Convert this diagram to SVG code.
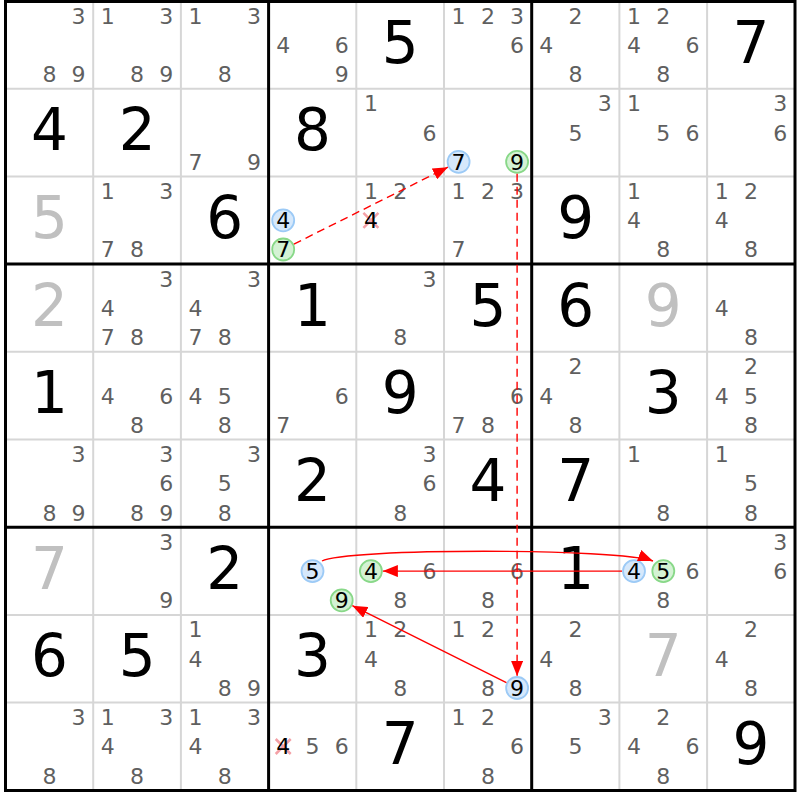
<svg xmlns="http://www.w3.org/2000/svg" width="800" height="800" viewBox="0 0 800 800">
<style>
text{font-family:"DejaVu Sans","Liberation Sans",sans-serif;text-anchor:middle}
.c{font-size:22px;fill:#5f5f5f}
.h{font-size:22px;fill:#000}
.g{font-size:58px;fill:#000}
.s{font-size:58px;fill:#c0c0c0}
.thin{stroke:#d6d6d6;stroke-width:2;fill:none}
.thick{stroke:#000;stroke-width:3;fill:none}
.bl{fill:#d6e8fb;stroke:#9ccaf6;stroke-width:1.8}
.gr{fill:#d4f2d4;stroke:#88d888;stroke-width:1.8}
.x{stroke:#f4a0a6;stroke-width:2.5}
.a{stroke:#ff0000;stroke-width:1.4;fill:none}
.d{stroke-dasharray:8,5}
</style>
<defs>
<marker id="ah" markerUnits="userSpaceOnUse" markerWidth="16" markerHeight="12" refX="15" refY="6" orient="auto">
<path d="M0,0 L15,6 L0,12 z" fill="#ff0000"/>
</marker>
</defs>
<rect width="800" height="800" fill="#fff"/>
<g id="grid">
<path class="thin" d="M93.2,1V790.3M180.9,1V790.3M356.3,1V790.3M444,1V790.3M619.4,1V790.3M707.1,1V790.3M5.5,88.7H795M5.5,176.4H795M5.5,351.8H795M5.5,439.5H795M5.5,614.9H795M5.5,702.6H795"/>
<path class="thick" d="M268.6,1V790.3M531.7,1V790.3M5.5,264.1H795M5.5,527.2H795"/>
<rect class="thick" x="5.5" y="1.5" width="789.5" height="789"/>
</g>
<g id="r0c0" transform="translate(5.5,1)"><text class="c" x="73.1" y="22.6">3</text><text class="c" x="43.9" y="81.1">8</text><text class="c" x="73.1" y="81.1">9</text></g>
<g id="r0c1" transform="translate(93.2,1)"><text class="c" x="14.6" y="22.6">1</text><text class="c" x="73.1" y="22.6">3</text><text class="c" x="43.9" y="81.1">8</text><text class="c" x="73.1" y="81.1">9</text></g>
<g id="r0c2" transform="translate(180.9,1)"><text class="c" x="14.6" y="22.6">1</text><text class="c" x="73.1" y="22.6">3</text><text class="c" x="43.9" y="81.1">8</text></g>
<g id="r0c3" transform="translate(268.6,1)"><text class="c" x="14.6" y="51.9">4</text><text class="c" x="73.1" y="51.9">6</text><text class="c" x="73.1" y="81.1">9</text></g>
<g id="r0c4" transform="translate(356.3,1)"><text class="g" x="43.9" y="61.5">5</text></g>
<g id="r0c5" transform="translate(444,1)"><text class="c" x="14.6" y="22.6">1</text><text class="c" x="43.9" y="22.6">2</text><text class="c" x="73.1" y="22.6">3</text><text class="c" x="73.1" y="51.9">6</text></g>
<g id="r0c6" transform="translate(531.7,1)"><text class="c" x="43.9" y="22.6">2</text><text class="c" x="14.6" y="51.9">4</text><text class="c" x="43.9" y="81.1">8</text></g>
<g id="r0c7" transform="translate(619.4,1)"><text class="c" x="14.6" y="22.6">1</text><text class="c" x="43.9" y="22.6">2</text><text class="c" x="14.6" y="51.9">4</text><text class="c" x="73.1" y="51.9">6</text><text class="c" x="43.9" y="81.1">8</text></g>
<g id="r0c8" transform="translate(707.1,1)"><text class="g" x="43.9" y="61.5">7</text></g>

<g id="r1c0" transform="translate(5.5,88.7)"><text class="g" x="43.9" y="61.5">4</text></g>
<g id="r1c1" transform="translate(93.2,88.7)"><text class="g" x="43.9" y="61.5">2</text></g>
<g id="r1c2" transform="translate(180.9,88.7)"><text class="c" x="14.6" y="81.1">7</text><text class="c" x="73.1" y="81.1">9</text></g>
<g id="r1c3" transform="translate(268.6,88.7)"><text class="g" x="43.9" y="61.5">8</text></g>
<g id="r1c4" transform="translate(356.3,88.7)"><text class="c" x="14.6" y="22.6">1</text><text class="c" x="73.1" y="51.9">6</text></g>
<g id="r1c5" transform="translate(444,88.7)"><circle class="bl" cx="14.6" cy="73.1" r="11"/><text class="h" x="14.6" y="81.1">7</text><circle class="gr" cx="73.1" cy="73.1" r="11"/><text class="h" x="73.1" y="81.1">9</text></g>
<g id="r1c6" transform="translate(531.7,88.7)"><text class="c" x="73.1" y="22.6">3</text><text class="c" x="43.9" y="51.9">5</text></g>
<g id="r1c7" transform="translate(619.4,88.7)"><text class="c" x="14.6" y="22.6">1</text><text class="c" x="43.9" y="51.9">5</text><text class="c" x="73.1" y="51.9">6</text></g>
<g id="r1c8" transform="translate(707.1,88.7)"><text class="c" x="73.1" y="22.6">3</text><text class="c" x="73.1" y="51.9">6</text></g>

<g id="r2c0" transform="translate(5.5,176.4)"><text class="s" x="43.9" y="61.5">5</text></g>
<g id="r2c1" transform="translate(93.2,176.4)"><text class="c" x="14.6" y="22.6">1</text><text class="c" x="73.1" y="22.6">3</text><text class="c" x="14.6" y="81.1">7</text><text class="c" x="43.9" y="81.1">8</text></g>
<g id="r2c2" transform="translate(180.9,176.4)"><text class="g" x="43.9" y="61.5">6</text></g>
<g id="r2c3" transform="translate(268.6,176.4)"><circle class="bl" cx="14.6" cy="43.9" r="11"/><text class="h" x="14.6" y="51.9">4</text><circle class="gr" cx="14.6" cy="73.1" r="11"/><text class="h" x="14.6" y="81.1">7</text></g>
<g id="r2c4" transform="translate(356.3,176.4)"><text class="c" x="14.6" y="22.6">1</text><text class="c" x="43.9" y="22.6">2</text><path class="x" d="M7.1,36.4L22.1,51.4M22.1,36.4L7.1,51.4"/><text class="h" x="14.6" y="51.9">4</text></g>
<g id="r2c5" transform="translate(444,176.4)"><text class="c" x="14.6" y="22.6">1</text><text class="c" x="43.9" y="22.6">2</text><text class="c" x="73.1" y="22.6">3</text><text class="c" x="14.6" y="81.1">7</text></g>
<g id="r2c6" transform="translate(531.7,176.4)"><text class="g" x="43.9" y="61.5">9</text></g>
<g id="r2c7" transform="translate(619.4,176.4)"><text class="c" x="14.6" y="22.6">1</text><text class="c" x="14.6" y="51.9">4</text><text class="c" x="43.9" y="81.1">8</text></g>
<g id="r2c8" transform="translate(707.1,176.4)"><text class="c" x="14.6" y="22.6">1</text><text class="c" x="43.9" y="22.6">2</text><text class="c" x="14.6" y="51.9">4</text><text class="c" x="43.9" y="81.1">8</text></g>

<g id="r3c0" transform="translate(5.5,264.1)"><text class="s" x="43.9" y="61.5">2</text></g>
<g id="r3c1" transform="translate(93.2,264.1)"><text class="c" x="73.1" y="22.6">3</text><text class="c" x="14.6" y="51.9">4</text><text class="c" x="14.6" y="81.1">7</text><text class="c" x="43.9" y="81.1">8</text></g>
<g id="r3c2" transform="translate(180.9,264.1)"><text class="c" x="73.1" y="22.6">3</text><text class="c" x="14.6" y="51.9">4</text><text class="c" x="14.6" y="81.1">7</text><text class="c" x="43.9" y="81.1">8</text></g>
<g id="r3c3" transform="translate(268.6,264.1)"><text class="g" x="43.9" y="61.5">1</text></g>
<g id="r3c4" transform="translate(356.3,264.1)"><text class="c" x="73.1" y="22.6">3</text><text class="c" x="43.9" y="81.1">8</text></g>
<g id="r3c5" transform="translate(444,264.1)"><text class="g" x="43.9" y="61.5">5</text></g>
<g id="r3c6" transform="translate(531.7,264.1)"><text class="g" x="43.9" y="61.5">6</text></g>
<g id="r3c7" transform="translate(619.4,264.1)"><text class="s" x="43.9" y="61.5">9</text></g>
<g id="r3c8" transform="translate(707.1,264.1)"><text class="c" x="14.6" y="51.9">4</text><text class="c" x="43.9" y="81.1">8</text></g>

<g id="r4c0" transform="translate(5.5,351.8)"><text class="g" x="43.9" y="61.5">1</text></g>
<g id="r4c1" transform="translate(93.2,351.8)"><text class="c" x="14.6" y="51.9">4</text><text class="c" x="73.1" y="51.9">6</text><text class="c" x="43.9" y="81.1">8</text></g>
<g id="r4c2" transform="translate(180.9,351.8)"><text class="c" x="14.6" y="51.9">4</text><text class="c" x="43.9" y="51.9">5</text><text class="c" x="43.9" y="81.1">8</text></g>
<g id="r4c3" transform="translate(268.6,351.8)"><text class="c" x="73.1" y="51.9">6</text><text class="c" x="14.6" y="81.1">7</text></g>
<g id="r4c4" transform="translate(356.3,351.8)"><text class="g" x="43.9" y="61.5">9</text></g>
<g id="r4c5" transform="translate(444,351.8)"><text class="c" x="73.1" y="51.9">6</text><text class="c" x="14.6" y="81.1">7</text><text class="c" x="43.9" y="81.1">8</text></g>
<g id="r4c6" transform="translate(531.7,351.8)"><text class="c" x="43.9" y="22.6">2</text><text class="c" x="14.6" y="51.9">4</text><text class="c" x="43.9" y="81.1">8</text></g>
<g id="r4c7" transform="translate(619.4,351.8)"><text class="g" x="43.9" y="61.5">3</text></g>
<g id="r4c8" transform="translate(707.1,351.8)"><text class="c" x="43.9" y="22.6">2</text><text class="c" x="14.6" y="51.9">4</text><text class="c" x="43.9" y="51.9">5</text><text class="c" x="43.9" y="81.1">8</text></g>

<g id="r5c0" transform="translate(5.5,439.5)"><text class="c" x="73.1" y="22.6">3</text><text class="c" x="43.9" y="81.1">8</text><text class="c" x="73.1" y="81.1">9</text></g>
<g id="r5c1" transform="translate(93.2,439.5)"><text class="c" x="73.1" y="22.6">3</text><text class="c" x="73.1" y="51.9">6</text><text class="c" x="43.9" y="81.1">8</text><text class="c" x="73.1" y="81.1">9</text></g>
<g id="r5c2" transform="translate(180.9,439.5)"><text class="c" x="73.1" y="22.6">3</text><text class="c" x="43.9" y="51.9">5</text><text class="c" x="43.9" y="81.1">8</text></g>
<g id="r5c3" transform="translate(268.6,439.5)"><text class="g" x="43.9" y="61.5">2</text></g>
<g id="r5c4" transform="translate(356.3,439.5)"><text class="c" x="73.1" y="22.6">3</text><text class="c" x="73.1" y="51.9">6</text><text class="c" x="43.9" y="81.1">8</text></g>
<g id="r5c5" transform="translate(444,439.5)"><text class="g" x="43.9" y="61.5">4</text></g>
<g id="r5c6" transform="translate(531.7,439.5)"><text class="g" x="43.9" y="61.5">7</text></g>
<g id="r5c7" transform="translate(619.4,439.5)"><text class="c" x="14.6" y="22.6">1</text><text class="c" x="43.9" y="81.1">8</text></g>
<g id="r5c8" transform="translate(707.1,439.5)"><text class="c" x="14.6" y="22.6">1</text><text class="c" x="43.9" y="51.9">5</text><text class="c" x="43.9" y="81.1">8</text></g>

<g id="r6c0" transform="translate(5.5,527.2)"><text class="s" x="43.9" y="61.5">7</text></g>
<g id="r6c1" transform="translate(93.2,527.2)"><text class="c" x="73.1" y="22.6">3</text><text class="c" x="73.1" y="81.1">9</text></g>
<g id="r6c2" transform="translate(180.9,527.2)"><text class="g" x="43.9" y="61.5">2</text></g>
<g id="r6c3" transform="translate(268.6,527.2)"><circle class="bl" cx="43.9" cy="43.9" r="11"/><text class="h" x="43.9" y="51.9">5</text><circle class="gr" cx="73.1" cy="73.1" r="11"/><text class="h" x="73.1" y="81.1">9</text></g>
<g id="r6c4" transform="translate(356.3,527.2)"><circle class="gr" cx="14.6" cy="43.9" r="11"/><text class="h" x="14.6" y="51.9">4</text><text class="c" x="73.1" y="51.9">6</text><text class="c" x="43.9" y="81.1">8</text></g>
<g id="r6c5" transform="translate(444,527.2)"><text class="c" x="73.1" y="51.9">6</text><text class="c" x="43.9" y="81.1">8</text></g>
<g id="r6c6" transform="translate(531.7,527.2)"><text class="g" x="43.9" y="61.5">1</text></g>
<g id="r6c7" transform="translate(619.4,527.2)"><circle class="bl" cx="14.6" cy="43.9" r="11"/><text class="h" x="14.6" y="51.9">4</text><circle class="gr" cx="43.9" cy="43.9" r="11"/><text class="h" x="43.9" y="51.9">5</text><text class="c" x="73.1" y="51.9">6</text><text class="c" x="43.9" y="81.1">8</text></g>
<g id="r6c8" transform="translate(707.1,527.2)"><text class="c" x="73.1" y="22.6">3</text><text class="c" x="73.1" y="51.9">6</text></g>

<g id="r7c0" transform="translate(5.5,614.9)"><text class="g" x="43.9" y="61.5">6</text></g>
<g id="r7c1" transform="translate(93.2,614.9)"><text class="g" x="43.9" y="61.5">5</text></g>
<g id="r7c2" transform="translate(180.9,614.9)"><text class="c" x="14.6" y="22.6">1</text><text class="c" x="14.6" y="51.9">4</text><text class="c" x="43.9" y="81.1">8</text><text class="c" x="73.1" y="81.1">9</text></g>
<g id="r7c3" transform="translate(268.6,614.9)"><text class="g" x="43.9" y="61.5">3</text></g>
<g id="r7c4" transform="translate(356.3,614.9)"><text class="c" x="14.6" y="22.6">1</text><text class="c" x="43.9" y="22.6">2</text><text class="c" x="14.6" y="51.9">4</text><text class="c" x="43.9" y="81.1">8</text></g>
<g id="r7c5" transform="translate(444,614.9)"><text class="c" x="14.6" y="22.6">1</text><text class="c" x="43.9" y="22.6">2</text><text class="c" x="43.9" y="81.1">8</text><circle class="bl" cx="73.1" cy="73.1" r="11"/><text class="h" x="73.1" y="81.1">9</text></g>
<g id="r7c6" transform="translate(531.7,614.9)"><text class="c" x="43.9" y="22.6">2</text><text class="c" x="14.6" y="51.9">4</text><text class="c" x="43.9" y="81.1">8</text></g>
<g id="r7c7" transform="translate(619.4,614.9)"><text class="s" x="43.9" y="61.5">7</text></g>
<g id="r7c8" transform="translate(707.1,614.9)"><text class="c" x="43.9" y="22.6">2</text><text class="c" x="14.6" y="51.9">4</text><text class="c" x="43.9" y="81.1">8</text></g>

<g id="r8c0" transform="translate(5.5,702.6)"><text class="c" x="73.1" y="22.6">3</text><text class="c" x="43.9" y="81.1">8</text></g>
<g id="r8c1" transform="translate(93.2,702.6)"><text class="c" x="14.6" y="22.6">1</text><text class="c" x="73.1" y="22.6">3</text><text class="c" x="14.6" y="51.9">4</text><text class="c" x="43.9" y="81.1">8</text></g>
<g id="r8c2" transform="translate(180.9,702.6)"><text class="c" x="14.6" y="22.6">1</text><text class="c" x="73.1" y="22.6">3</text><text class="c" x="14.6" y="51.9">4</text><text class="c" x="43.9" y="81.1">8</text></g>
<g id="r8c3" transform="translate(268.6,702.6)"><path class="x" d="M7.1,36.4L22.1,51.4M22.1,36.4L7.1,51.4"/><text class="h" x="14.6" y="51.9">4</text><text class="c" x="43.9" y="51.9">5</text><text class="c" x="73.1" y="51.9">6</text></g>
<g id="r8c4" transform="translate(356.3,702.6)"><text class="g" x="43.9" y="61.5">7</text></g>
<g id="r8c5" transform="translate(444,702.6)"><text class="c" x="14.6" y="22.6">1</text><text class="c" x="43.9" y="22.6">2</text><text class="c" x="73.1" y="51.9">6</text><text class="c" x="43.9" y="81.1">8</text></g>
<g id="r8c6" transform="translate(531.7,702.6)"><text class="c" x="73.1" y="22.6">3</text><text class="c" x="43.9" y="51.9">5</text></g>
<g id="r8c7" transform="translate(619.4,702.6)"><text class="c" x="43.9" y="22.6">2</text><text class="c" x="14.6" y="51.9">4</text><text class="c" x="73.1" y="51.9">6</text><text class="c" x="43.9" y="81.1">8</text></g>
<g id="r8c8" transform="translate(707.1,702.6)"><text class="g" x="43.9" y="61.5">9</text></g>

<g id="connectors">
<path class="a d" d="M293.9,244.1L447.9,167.2" marker-end="url(#ah)"/>
<path class="a d" d="M517.1,173.8V676" marker-end="url(#ah)"/>
<path class="a" d="M506.4,682.6L352.4,605.7" marker-end="url(#ah)"/>
<path class="a" d="M622,571.1H382.9" marker-end="url(#ah)"/>
<path class="a" d="M322,561C345,548 620,548 653,561" marker-end="url(#ah)"/>
</g>
</svg>
